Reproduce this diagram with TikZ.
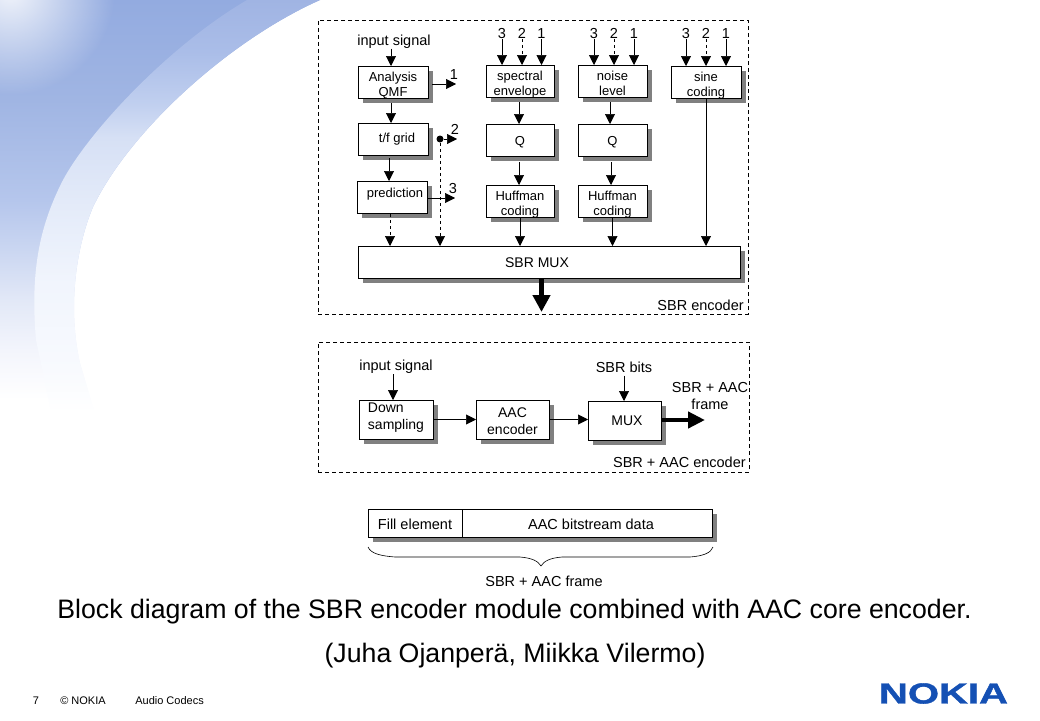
\documentclass[tikz,border=0pt]{standalone}
\usepackage{fontspec}
\setmainfont{Liberation Sans}
\newfontfamily\logofont[FakeBold=1.2]{Liberation Sans Bold}
\usetikzlibrary{arrows.meta,shadows,fadings}

\definecolor{nokiablue}{HTML}{1450B4}
\definecolor{boxshadow}{HTML}{808080}

\definecolor{sw0}{HTML}{93ABE0}
\definecolor{sw1}{HTML}{A0B5E3}
\definecolor{sw2}{HTML}{B5C6EC}
\definecolor{sw3}{HTML}{CAD6F1}
\definecolor{sw4}{HTML}{E2E8F7}
\definecolor{sw5}{HTML}{F3F5FC}
\definecolor{bd0}{HTML}{A0B4E3}
\definecolor{bd1}{HTML}{AABDE8}
\definecolor{bd2}{HTML}{C0CFEF}
\definecolor{bd3}{HTML}{D6E0F5}
\definecolor{bd4}{HTML}{E4EBF9}
\definecolor{bd5}{HTML}{F1F5FD}
\definecolor{bd6}{HTML}{F8FAFE}
\pgfdeclareverticalshading{darkpart}{100bp}{color(0bp)=(white); color(25bp)=(white);
  color(28.5bp)=(white); color(34.3bp)=(sw5); color(40.1bp)=(sw4); color(46bp)=(sw3);
  color(51.7bp)=(sw2); color(63.4bp)=(sw1); color(75bp)=(sw0); color(100bp)=(sw0)}
\pgfdeclareverticalshading{bandpart}{100bp}{color(0bp)=(white); color(27bp)=(white);
  color(32bp)=(bd6); color(42bp)=(bd5); color(51bp)=(bd4); color(59bp)=(bd3);
  color(63bp)=(bd2); color(69bp)=(bd1); color(75bp)=(bd0); color(100bp)=(bd0)}
\tikzfading[name=cornerglow,inner color=transparent!12,outer color=transparent!100]

\begin{document}
\begin{tikzpicture}[x=1pt,y=-1pt,->,>={Triangle[length=10pt,width=10pt]},semithick]
  \tikzstyle{block}=[draw,fill=white,line width=0.8pt,minimum width=70pt,minimum height=32pt,
                     inner sep=0pt,align=center,outer sep=0pt,
                     font=\fontsize{13}{15}\selectfont,
                     drop shadow={shadow xshift=4.5pt,shadow yshift=-5pt,fill=boxshadow,opacity=1}]
  \tikzstyle{twolines}=[text height=28pt,text depth=0pt]
  \tikzstyle{oneline}=[text height=14pt]
  \tikzstyle{frame}=[draw,line width=0.8pt,dash pattern=on 4pt off 3pt,inner sep=0pt,outer sep=0pt]
  \tikzstyle{lbl}=[inner sep=0pt,font=\fontsize{14.5}{17.5}\selectfont,align=center]
  \tikzstyle{thickarrow}=[line width=4.5pt,-{Triangle[length=17pt,width=17pt]}]
  \tikzstyle{slide}=[inner sep=0pt,font=\fontsize{26.7}{30}\selectfont]
  \tikzstyle{foot}=[inner sep=0pt,font=\fontsize{11}{12}\selectfont]

  \useasboundingbox (0,0) rectangle (1040,720);

  % background
  \shade[shading=darkpart,-] (0,0) -- (320,0) .. controls (230,40) and (130,130) .. (93,207)
     .. controls (75,250) and (68,310) .. (80,363) -- (100,430) -- (0,430) -- cycle;
  \begin{scope}
    \clip (0,0) rectangle (150,130);
    \fill[white,path fading=cornerglow,-] (10,-10) ellipse (105 and 105);
  \end{scope}
  \shade[shading=bandpart,-] (247,0) .. controls (170,45) and (90,130) .. (63,180)
     .. controls (40,225) and (30,270) .. (36,340) -- (55,430) -- (100,430) -- (80,363)
     .. controls (68,310) and (75,250) .. (93,207) .. controls (130,130) and (230,40) .. (320,0) -- cycle;

  % SBR encoder
  \node[frame,minimum width=430pt,minimum height=294pt] (encframe) at (533,167) {};
  \node[lbl,anchor=east] (enclabel) at (744,305) {SBR encoder};

  \node[lbl] (insig) at (394,41.5) {input signal};
  \node[block,twolines] (analysis) at (393,82) {Analysis\\QMF};
  \node[block] (tfgrid) [below of=analysis,node distance=57pt] {\hspace*{8pt}t/f grid};
  \node[block,text depth=8pt] (prediction) at (392,197) {\hspace*{6pt}prediction};
  \node[block,minimum width=382pt,text height=11pt,font=\fontsize{14}{15}\selectfont] (sbrmux) at (549,262) {\hspace*{-24pt}SBR MUX};

  \node[block,twolines,minimum width=68pt] (spectral) at (520,81) {spectral\\envelope};
  \node[block,oneline,minimum width=68pt] (qa) [below of=spectral,node distance=59pt] {Q};
  \node[block,twolines,minimum width=68pt] (huffa) [below of=qa,node distance=61pt] {Huffman\\coding};

  \node[block,twolines,minimum width=69pt] (noise) at (612.5,81) {noise\\level};
  \node[block,oneline,minimum width=69pt] (qb) [below of=noise,node distance=59pt] {Q};
  \node[block,twolines,minimum width=69pt] (huffb) [below of=qb,node distance=61pt] {Huffman\\coding};

  \node[block,twolines] (sine) at (706,82) {sine\\coding};

  \node[lbl] (outone) at (454,75) {1};
  \node[lbl] (outtwo) at (455,129.5) {2};
  \node[lbl] (outthree) at (453,189) {3};
  \coordinate (tipone) at (456,84);
  \coordinate (tiptwo) at (457,139);
  \coordinate (tipthree) at (455,198);
  \node[circle,fill,inner sep=0pt,minimum size=7pt] (junction) at (440,139) {};

  \node[lbl] (sthree) at (502,33.5) {3};
  \node[lbl] (stwo) at (522,33.5) {2};
  \node[lbl] (sone) at (541.5,33.5) {1};
  \node[lbl] (nthree) at (594,33.5) {3};
  \node[lbl] (ntwo) at (614,33.5) {2};
  \node[lbl] (none) at (634,33.5) {1};
  \node[lbl] (cthree) at (686,33.5) {3};
  \node[lbl] (ctwo) at (706,33.5) {2};
  \node[lbl] (cone) at (726,33.5) {1};

  \coordinate (outenc) at (541.5,312);

  \path ([xshift=-3pt]insig.south) edge ([xshift=-2pt]analysis.north)
        ([xshift=-2pt,yshift=-5pt]analysis.south) edge ([xshift=-2pt]tfgrid.north)
        ([xshift=-4pt,yshift=-3pt]tfgrid.south) edge ([xshift=-3pt]prediction.north)
        ([xshift=-2pt,yshift=-1pt]prediction.south) edge[dashed] ([xshift=-2pt]prediction.south |- sbrmux.north)
        ([xshift=4pt,yshift=-2pt]analysis.east) edge (tipone)
        (junction) edge (tiptwo)
        (junction) edge[dashed] (junction |- sbrmux.north)
        ([yshift=-1pt]prediction.east) edge (tipthree);

  \path (sthree) edge (sthree |- spectral.north)
        (stwo) edge[dashed] (stwo |- spectral.north)
        (sone) edge (sone |- spectral.north)
        (nthree) edge (nthree |- noise.north)
        (ntwo) edge[dashed] (ntwo |- noise.north)
        (none) edge (none |- noise.north)
        (cthree) edge (cthree |- sine.north)
        (ctwo) edge[dashed] (ctwo |- sine.north)
        (cone) edge (cone |- sine.north);

  \path ([xshift=-1pt,yshift=-5pt]spectral.south) edge ([xshift=-1pt]qa.north)
        ([xshift=-1pt,yshift=-6pt]qa.south) edge ([xshift=-1pt]huffa.north)
        (huffa.south) edge (huffa.south |- sbrmux.north)
        ([xshift=-2.5pt,yshift=-5pt]noise.south) edge ([xshift=-2.5pt]qb.north)
        ([xshift=-1.5pt,yshift=-6pt]qb.south) edge ([xshift=-1.5pt]huffb.north)
        (huffb.south) edge (huffb.south |- sbrmux.north)
        (sine.south) edge (sine.south |- sbrmux.north);
  \draw[thickarrow] (outenc |- sbrmux.south) -- (outenc);

  % SBR + AAC encoder
  \node[frame,minimum width=431pt,minimum height=130pt] (aacframe) at (533.5,407) {};
  \node[lbl,anchor=east] (aacflabel) at (746,462) {SBR + AAC encoder};

  \node[lbl] (insigb) at (396,367) {input signal};
  \node[block,minimum width=74pt,minimum height=39pt,align=left,text height=22pt,font=\fontsize{14}{17}\selectfont] (down) at (396,419.5) {Down\\sampling};
  \node[block,minimum width=73pt,minimum height=39pt,text height=31pt,font=\fontsize{14}{17}\selectfont] (aacenc) at (512.5,419.5) {AAC\\encoder};
  \node[block,minimum width=73pt,minimum height=39pt,font=\fontsize{14}{17}\selectfont] (mux) at (624.5,420.5) {\hspace*{5pt}MUX};
  \node[lbl] (sbrbits) at (624,367) {SBR bits};
  \node[lbl] (framelabel) at (710,396) {SBR + AAC\\frame};
  \coordinate (outaac) at (705,420);

  \path ([xshift=-3pt]insigb.south) edge ([xshift=-3pt]down.north)
        (down) edge (aacenc)
        (aacenc.east) edge (mux.west |- aacenc.east)
        ([yshift=-3pt]sbrbits.south) edge (sbrbits |- mux.north);
  \draw[thickarrow,-{Triangle[length=17pt,width=16pt]}] ([xshift=1pt]mux.east |- outaac) -- (outaac);

  % frame layout
  \node[block,minimum width=94pt,minimum height=28pt,text height=13pt,font=\fontsize{14.5}{15}\selectfont] (fillel) at (415,523) {Fill element};
  \node[block,minimum width=250pt,minimum height=28pt,text height=13pt,font=\fontsize{14.5}{15}\selectfont] (aacdata) at (587,523) {\hspace*{8pt}AAC bitstream data};
  \draw[-,line width=0.6pt] (368,547) .. controls (371,554) and (382,556) .. (395,557)
     -- (520,557) .. controls (532,558) and (538,561) .. (541,566)
     .. controls (544,561) and (550,558) .. (562,557) -- (690,557)
     .. controls (703,556) and (711,553) .. (713,547);
  \node[lbl] (framesize) at (544,581) {SBR + AAC frame};

  % slide text
  \node[slide] (caption) at (514.5,611.5) {Block diagram of the SBR encoder module combined with AAC core encoder.};
  \node[slide] (authors) at (515,655.5) {(Juha Ojanperä, Miikka Vilermo)};
  \node[foot] (pageno) at (36,701) {7};
  \node[foot,anchor=west] (copyr) at (60,701) {© NOKIA};
  \node[foot,anchor=west] (talk) at (135,701) {Audio Codecs};
  \node[inner sep=0pt,xscale=1.38,text=nokiablue,font=\fontsize{29}{30}\logofont\selectfont] (logo) at (943.5,693.5) {NOKIA};
\end{tikzpicture}
\end{document}
